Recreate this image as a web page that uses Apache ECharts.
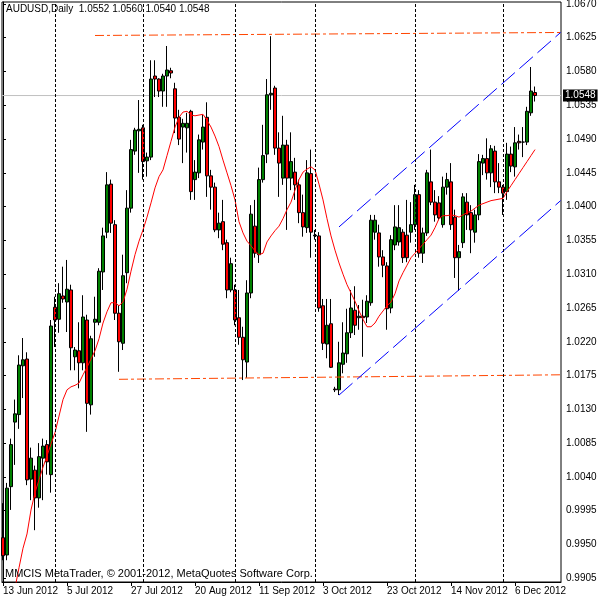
<!DOCTYPE html>
<html><head><meta charset="utf-8">
<script src="https://cdn.jsdelivr.net/npm/echarts@6/dist/echarts.min.js"></script>
<style>html,body{margin:0;padding:0;background:#fff}#c{width:600px;height:600px}</style>
</head><body><div id="c"></div>
<script>
const headerText = 'AUDUSD,Daily  1.0552 1.0560 1.0540 1.0548';
const copyrightText = 'MMCIS MetaTrader, \u00A9 2001-2012, MetaQuotes Software Corp.';

const open = [0.9959,0.9936,1.0027,1.0113,1.0123,1.0188,1.0197,1.0037,1.0049,1.0012,
1.0065,1.0083,1.0043,1.0266,1.0250,1.0281,1.0273,1.0289,1.0200,1.0208,
1.0192,1.0249,1.0136,1.0246,1.0246,1.0313,1.0366,1.0430,1.0376,1.0258,
1.0218,1.0312,1.0398,1.0474,1.0501,1.0505,1.0461,1.0466,1.0574,1.0570,
1.0554,1.0574,1.0581,1.0557,1.0519,1.0506,1.0505,1.0527,1.0436,1.0445,
1.0486,1.0519,1.0441,1.0426,1.0369,1.0380,1.0352,1.0289,1.0289,1.0252,
1.0226,1.0193,1.0285,1.0374,1.0336,1.0436,1.0470,1.0549,1.0558,1.0478,
1.0438,1.0482,1.0438,1.0446,1.0429,1.0392,1.0372,1.0444,1.0361,1.0361,
1.0268,1.0217,1.0244,1.0157,1.0156,1.0190,1.0204,1.0232,1.0262,1.0252,
1.0254,1.0253,1.0272,1.0366,1.0365,1.0333,1.0321,1.0265,1.0349,1.0353,
1.0366,1.0362,1.0366,1.0376,1.0416,1.0338,1.0365,1.0433,1.0406,1.0405,
1.0376,1.0426,1.0433,1.0386,1.0332,1.0352,1.0406,1.0392,1.0366,1.0389,
1.0458,1.0464,1.0445,1.0474,1.0433,1.0426,1.0420,1.0470,1.0453,1.0487,
1.0486,1.0486,1.0525,1.0552];
const close = [0.9935,1.0025,1.0083,1.0124,1.0189,1.0196,1.0036,1.0065,1.0012,1.0067,
1.0081,1.0060,1.0241,1.0249,1.0284,1.0277,1.0290,1.0212,1.0209,1.0192,
1.0253,1.0138,1.0224,1.0250,1.0314,1.0361,1.0429,1.0378,1.0258,1.0220,
1.0308,1.0398,1.0476,1.0502,1.0503,1.0460,1.0466,1.0570,1.0570,1.0554,
1.0574,1.0582,1.0578,1.0518,1.0490,1.0511,1.0511,1.0420,1.0446,1.0489,
1.0506,1.0441,1.0426,1.0369,1.0378,1.0350,1.0289,1.0324,1.0249,1.0226,
1.0196,1.0285,1.0390,1.0338,1.0436,1.0468,1.0549,1.0551,1.0478,1.0458,
1.0482,1.0438,1.0460,1.0429,1.0392,1.0373,1.0445,1.0366,1.0362,1.0265,
1.0218,1.0242,1.0186,1.0156,1.0192,1.0205,1.0232,1.0265,1.0242,1.0254,
1.0252,1.0274,1.0382,1.0382,1.0333,1.0322,1.0264,1.0356,1.0373,1.0372,
1.0332,1.0332,1.0376,1.0416,1.0338,1.0365,1.0445,1.0406,1.0389,1.0385,
1.0426,1.0436,1.0376,1.0332,1.0340,1.0413,1.0389,1.0369,1.0389,1.0460,
1.0464,1.0445,1.0477,1.0433,1.0426,1.0418,1.0470,1.0454,1.0485,1.0485,
1.0486,1.0527,1.0554,1.0548];
const low = [0.9929,0.9929,0.9996,1.0056,1.0104,1.0145,1.0029,1.0009,0.9969,0.9999,
1.0009,1.0043,1.0019,1.0213,1.0232,1.0272,1.0233,1.0182,1.0182,1.0158,
1.0182,1.0100,1.0123,1.0200,1.0242,1.0289,1.0358,1.0365,1.0249,1.0180,
1.0209,1.0298,1.0392,1.0469,1.0445,1.0436,1.0440,1.0462,1.0546,1.0546,
1.0533,1.0533,1.0571,1.0498,1.0482,1.0458,1.0472,1.0409,1.0409,1.0438,
1.0476,1.0413,1.0396,1.0366,1.0358,1.0342,1.0278,1.0286,1.0242,1.0216,
1.0169,1.0172,1.0278,1.0332,1.0325,1.0432,1.0458,1.0529,1.0469,1.0413,
1.0429,1.0369,1.0422,1.0409,1.0378,1.0360,1.0365,1.0332,1.0356,1.0260,
1.0209,1.0198,1.0185,1.0153,1.0149,1.0178,1.0192,1.0225,1.0229,1.0236,
1.0200,1.0245,1.0268,1.0356,1.0320,1.0306,1.0236,1.0258,1.0342,1.0348,
1.0325,1.0326,1.0352,1.0369,1.0332,1.0325,1.0361,1.0402,1.0380,1.0382,
1.0372,1.0416,1.0369,1.0305,1.0288,1.0345,1.0369,1.0338,1.0352,1.0382,
1.0442,1.0436,1.0426,1.0418,1.0418,1.0389,1.0409,1.0446,1.0440,1.0476,
1.0466,1.0482,1.0521,1.0540];
const high = [1.0005,1.0032,1.0091,1.0143,1.0202,1.0225,1.0206,1.0079,1.0055,1.0085,
1.0091,1.0089,1.0249,1.0280,1.0298,1.0320,1.0329,1.0296,1.0213,1.0246,
1.0282,1.0256,1.0228,1.0280,1.0318,1.0372,1.0446,1.0436,1.0382,1.0269,
1.0336,1.0422,1.0489,1.0505,1.0542,1.0509,1.0472,1.0595,1.0595,1.0571,
1.0577,1.0614,1.0585,1.0565,1.0529,1.0517,1.0525,1.0529,1.0462,1.0496,
1.0522,1.0539,1.0449,1.0432,1.0392,1.0409,1.0356,1.0332,1.0296,1.0289,
1.0240,1.0302,1.0402,1.0409,1.0452,1.0509,1.0570,1.0627,1.0561,1.0499,
1.0521,1.0489,1.0499,1.0465,1.0436,1.0416,1.0462,1.0476,1.0369,1.0366,
1.0277,1.0277,1.0277,1.0160,1.0220,1.0246,1.0264,1.0289,1.0294,1.0269,
1.0276,1.0282,1.0389,1.0389,1.0376,1.0342,1.0326,1.0362,1.0402,1.0402,
1.0370,1.0409,1.0406,1.0429,1.0422,1.0372,1.0449,1.0476,1.0422,1.0414,
1.0440,1.0445,1.0458,1.0396,1.0349,1.0418,1.0418,1.0402,1.0396,1.0470,
1.0469,1.0491,1.0482,1.0481,1.0458,1.0429,1.0485,1.0480,1.0506,1.0496,
1.0506,1.0533,1.0586,1.0560];
const maValues = [0.9799,0.9829,0.9860,0.9892,0.9919,0.9945,0.9964,0.9996,1.0019,1.0036,
1.0053,1.0068,1.0084,1.0099,1.0121,1.0143,1.0156,1.0160,1.0162,1.0165,
1.0176,1.0186,1.0197,1.0208,1.0224,1.0245,1.0260,1.0272,1.0272,1.0268,
1.0273,1.0290,1.0314,1.0336,1.0354,1.0369,1.0386,1.0405,1.0425,1.0440,
1.0449,1.0468,1.0487,1.0506,1.0519,1.0526,1.0527,1.0522,1.0521,1.0522,
1.0523,1.0515,1.0506,1.0494,1.0480,1.0462,1.0445,1.0428,1.0409,1.0380,
1.0365,1.0354,1.0348,1.0341,1.0336,1.0338,1.0353,1.0361,1.0368,1.0374,
1.0384,1.0396,1.0406,1.0422,1.0436,1.0446,1.0450,1.0453,1.0449,1.0430,
1.0409,1.0384,1.0361,1.0342,1.0325,1.0310,1.0296,1.0285,1.0274,1.0261,
1.0250,1.0240,1.0240,1.0245,1.0254,1.0261,1.0268,1.0273,1.0284,1.0301,
1.0312,1.0322,1.0332,1.0338,1.0344,1.0350,1.0356,1.0362,1.0372,1.0384,
1.0388,1.0388,1.0389,1.0388,1.0386,1.0389,1.0392,1.0394,1.0398,1.0402,
1.0404,1.0406,1.0408,1.0409,1.0410,1.0411,1.0420,1.0428,1.0436,1.0444,
1.0452,1.0460,1.0468,1.0476];

const dateTickBars = [0,16,32,48,64,80,96,112,128];
const dateTickLabels = ['13 Jun 2012','5 Jul 2012','27 Jul 2012','20 Aug 2012','11 Sep 2012','3 Oct 2012','23 Oct 2012','14 Nov 2012','6 Dec 2012'];
const priceTicks = [0.9905,0.9950,0.9995,1.0040,1.0085,1.0130,1.0175,1.0220,1.0265,1.0310,1.0355,1.0400,1.0445,1.0490,1.0535,1.0580,1.0625,1.0670];
const monthSeparatorBars = [13,35,58,78,103,125];
const bidPrice = 1.0548;
const resistanceLine = [[23,1.0628],[139.4,1.0632]];
const supportLine = [[29,1.0170],[139.4,1.0176]];
const channelUpper = [[84,1.0373],[139.4,1.0632]];
const channelLower = [[84,1.0149],[139.4,1.0408]];

const X_MIN = -0.25, X_MAX = 139.5;
const FONT = 'Liberation Sans, Arial, sans-serif';
const candles = open.map((o,i)=>[i,o,close[i],low[i],high[i]]);
const maData = maValues.map((v,i)=>[i,v]);
const bidData = [[X_MIN,bidPrice],[X_MAX,bidPrice]];

const chart = echarts.init(document.getElementById('c'), null, {renderer:'canvas'});
chart.setOption({
  animation:false,
  backgroundColor:'#fff',
  title:[
    {text:headerText,left:6,top:4,padding:0,textStyle:{fontSize:10,fontWeight:'normal',color:'#000',fontFamily:FONT}},
    {text:copyrightText,left:5,top:568,padding:0,textStyle:{fontSize:11,fontWeight:'normal',color:'#000',fontFamily:FONT}}
  ],
  grid:{left:2,right:39,top:2,bottom:18,show:true,borderColor:'#000',borderWidth:1,backgroundColor:'#fff',containLabel:false,outerBoundsMode:'none'},
  xAxis:{type:'value',min:X_MIN,max:X_MAX,
    axisLine:{show:true,lineStyle:{color:'#000',width:1}},
    axisTick:{show:true,customValues:dateTickBars,length:4,inside:false,lineStyle:{color:'#000'}},
    axisLabel:{show:true,customValues:dateTickBars,align:'left',margin:4,color:'#000',fontSize:10,fontFamily:FONT,
      formatter:v=>dateTickLabels[dateTickBars.indexOf(Math.round(v))]||''},
    splitLine:{show:false}},
  yAxis:{type:'value',position:'right',min:0.99,max:1.06726,
    axisLine:{show:true,lineStyle:{color:'#000',width:1}},
    axisTick:{show:true,customValues:priceTicks,length:3,inside:false,lineStyle:{color:'#000'}},
    axisLabel:{show:true,customValues:priceTicks,margin:5,color:'#000',fontSize:10,fontFamily:FONT,
      formatter:v=>v.toFixed(4)},
    splitLine:{show:false}},
  series:[
    {type:'line',name:'separators',data:[],z:1,silent:true,
      markLine:{symbol:'none',silent:true,animation:false,
        label:{show:false},
        lineStyle:{color:'#000',type:[3,2],width:1},
        data:monthSeparatorBars.map(b=>({xAxis:b}))}},
    {type:'line',name:'bid',data:bidData,z:1,silent:true,showSymbol:false,clip:false,
      lineStyle:{color:'#C0C0C0',type:'solid',width:1},
      endLabel:{show:true,distance:2,formatter:bidPrice.toFixed(4),backgroundColor:'#000',color:'#fff',
        padding:[1,2,0,2],lineHeight:11,fontSize:10,fontFamily:FONT}},
    {type:'candlestick',name:'AUDUSD',data:candles,encode:{x:0,y:[1,2,3,4]},barWidth:3,z:3,
      itemStyle:{color:'#008000',color0:'#FF0000',borderColor:'#000',borderColor0:'#000',borderColorDoji:'#000',borderWidth:1}},
    {type:'line',name:'MA',data:maData,showSymbol:false,z:4,lineStyle:{color:'#FF0000',width:1},clip:true},
    {type:'line',data:resistanceLine,showSymbol:false,z:4,lineStyle:{color:'#FF4500',width:1,type:[9,3,3,3]}},
    {type:'line',data:supportLine,showSymbol:false,z:4,lineStyle:{color:'#FF4500',width:1,type:[9,3,3,3]}},
    {type:'line',data:channelUpper,showSymbol:false,z:4,lineStyle:{color:'#0000FF',width:1,type:[18,6]},clip:true},
    {type:'line',data:channelLower,showSymbol:false,z:4,lineStyle:{color:'#0000FF',width:1,type:[18,6]},clip:true}
  ]
});
</script>
</body></html>
